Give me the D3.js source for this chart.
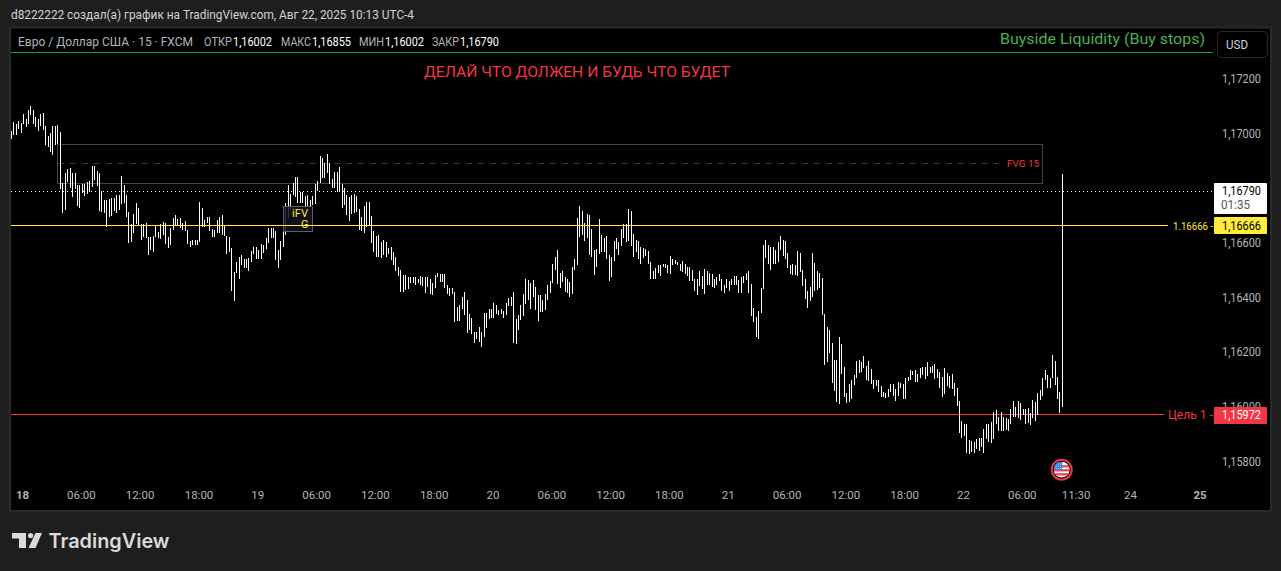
<!DOCTYPE html>
<html><head><meta charset="utf-8">
<script src="https://cdnjs.cloudflare.com/ajax/libs/d3/7.8.5/d3.min.js"></script>
<style>html,body{margin:0;padding:0;background:#1e1e1e;overflow:hidden}svg{display:block}text{font-family:Roboto,"Liberation Sans",sans-serif}</style>
</head><body><svg id="c" width="1281" height="571"></svg>
<script>
// Prices in 1e-5 units above 1.0 (16855 = 1.16855), one value per 15 minute bar
const highs=[17011,17044,17037,17048,17040,17074,17055,17088,17103,17088,17064,17055,17074,17076,17030,16993,17005,17030,17030,17033,17007,16820,16856,16872,16875,16856,16856,16814,16814,16817,16817,16826,16828,16883,16883,16865,16856,16793,16759,16759,16762,16765,16767,16777,16777,16847,16814,16777,16716,16671,16707,16746,16731,16671,16671,16673,16622,16624,16627,16663,16643,16670,16679,16673,16624,16655,16694,16704,16688,16692,16676,16682,16649,16610,16612,16612,16612,16751,16731,16685,16698,16698,16651,16649,16685,16698,16704,16667,16627,16624,16582,16494,16530,16551,16557,16543,16541,16547,16573,16585,16585,16576,16598,16594,16618,16655,16655,16657,16645,16576,16610,16645,16746,16814,16781,16820,16842,16842,
16789,16789,16773,16777,16758,16773,16819,16828,16919,16911,16893,16927,16893,16834,16862,16860,16878,16819,16801,16777,16770,16777,16780,16773,16724,16697,16737,16752,16751,16700,16646,16626,16630,16606,16612,16606,16581,16585,16569,16548,16514,16502,16483,16483,16477,16477,16477,16475,16468,16480,16477,16477,16477,16468,16453,16483,16492,16487,16487,16487,16447,16438,16435,16422,16367,16374,16404,16420,16392,16341,16328,16276,16276,16294,16276,16343,16346,16358,16361,16380,16374,16355,16361,16353,16380,16398,16404,16420,16321,16337,16374,16416,16468,16465,16453,16465,16441,16410,16410,16394,16416,16447,16463,16526,16551,16575,16492,16498,16477,16471,16459,
16512,16542,16691,16736,16718,16673,16707,16703,16652,16575,16579,16689,16630,16618,16627,16557,16551,16608,16618,16606,16652,16670,16670,16725,16718,16634,16612,16608,16587,16581,16579,16572,16532,16498,16508,16520,16520,16524,16526,16520,16553,16542,16539,16532,16526,16536,16526,16512,16514,16502,16471,16468,16498,16480,16506,16498,16493,16487,16468,16475,16486,16471,16449,16471,16463,16471,16480,16480,16465,16475,16480,16493,16498,16451,16362,16329,16352,16435,16594,16612,16594,16585,16587,16575,16606,16627,16612,16608,16563,16520,16524,16520,16572,16563,
16502,16469,16425,16439,16563,16527,16498,16490,16472,16341,16292,16282,16233,16172,16172,16255,16231,16148,16050,16085,16099,16117,16169,16172,16164,16187,16150,16169,16138,16099,16099,16099,16077,16054,16050,16066,16085,16085,16066,16093,16089,16083,16107,16112,16136,16132,16136,16121,16144,16148,16148,16165,16148,16152,16158,16138,16127,16110,16142,16124,16114,16120,16087,16069,16022,15949,15938,15938,15879,15876,15871,15882,15886,15886,15920,15937,15937,15947,15983,15989,15965,15981,15965,15959,15956,15993,16022,15999,16021,16014,15992,15993,15998,15980,16026,16017,16050,16063,16105,16136,16117,16105,16191,16169,16111,16054,16855];
const lows=[16982,16997,16997,17018,17005,17037,17027,17037,17070,17037,17027,17013,17030,17015,16960,16954,16936,16924,16960,16964,16798,16712,16722,16826,16801,16771,16798,16737,16728,16783,16773,16779,16789,16805,16832,16810,16720,16716,16712,16661,16695,16700,16720,16712,16722,16744,16746,16695,16602,16606,16637,16671,16667,16612,16624,16618,16557,16576,16568,16622,16618,16616,16630,16598,16584,16594,16649,16667,16667,16655,16649,16646,16598,16585,16594,16594,16594,16606,16661,16661,16673,16646,16624,16622,16639,16637,16630,16627,16560,16569,16427,16390,16490,16469,16521,16511,16511,16500,16533,16561,16541,16541,16541,16566,16578,16602,16618,16618,16539,16511,16539,16588,16630,16692,16722,16777,16771,16746,
16746,16746,16728,16734,16734,16740,16744,16792,16822,16838,16841,16858,16819,16801,16801,16789,16789,16728,16740,16703,16681,16709,16712,16715,16648,16646,16639,16658,16667,16602,16569,16548,16548,16545,16557,16548,16560,16538,16520,16499,16480,16422,16422,16429,16432,16453,16455,16447,16453,16447,16444,16419,16441,16413,16410,16435,16475,16459,16459,16438,16416,16407,16414,16313,16316,16315,16358,16337,16272,16282,16267,16236,16248,16239,16221,16258,16288,16321,16325,16327,16341,16337,16341,16325,16337,16370,16370,16233,16231,16284,16319,16333,16377,16392,16361,16404,16355,16316,16349,16349,16355,16392,16419,16453,16504,16451,16438,16459,16422,16419,16404,
16415,16502,16520,16624,16630,16609,16618,16557,16551,16484,16512,16561,16567,16569,16542,16462,16475,16535,16578,16557,16591,16618,16606,16608,16590,16551,16569,16542,16524,16547,16554,16524,16471,16469,16469,16490,16480,16512,16508,16490,16487,16520,16526,16520,16498,16496,16487,16480,16463,16463,16425,16410,16443,16432,16414,16449,16449,16441,16437,16447,16463,16426,16419,16438,16426,16447,16447,16447,16419,16419,16456,16465,16419,16333,16313,16258,16250,16346,16431,16545,16524,16502,16526,16524,16532,16575,16553,16542,16511,16487,16484,16484,16481,16494,
16444,16396,16364,16389,16404,16426,16429,16435,16339,16154,16164,16197,16089,16059,16019,16012,16121,16038,16014,16019,16030,16081,16107,16124,16127,16142,16099,16096,16083,16066,16077,16056,16038,16038,16033,16038,16054,16042,16022,16042,16069,16030,16030,16096,16099,16117,16093,16093,16108,16117,16103,16115,16124,16126,16103,16105,16070,16038,16048,16078,16069,16066,16041,16005,15906,15887,15895,15833,15828,15835,15833,15846,15840,15853,15833,15883,15873,15870,15882,15938,15914,15914,15914,15916,15912,15938,15965,15962,15959,15953,15971,15937,15940,15934,15959,15949,15971,16026,16042,16099,16069,16069,16105,16081,16028,15977,16002];
const priceTicks=[1.172,1.17,1.166,1.164,1.162,1.16,1.158];
const timeTickBars=[4.4,28.4,52.4,76.4,100.4,124.4,148.4,172.4,196.4,220.4,244.4,268.4,292.4,316.4,340.4,364.4,388.4,412.4,434.4,456.6,485];
const timeTickLabels=["18","06:00","12:00","18:00","19","06:00","12:00","18:00","20","06:00","12:00","18:00","21","06:00","12:00","18:00","22","06:00","11:30","24","25"];
const boldLabels=["18","25"];
const closePrice=1.1679, yellowLevel=1.16666, targetLevel=1.15972;
const fvgTop=1.16963, fvgBottom=1.1682, fvgMid=1.16891;

const svg=d3.select("#c");
const x=d3.scaleLinear().domain([0,429]).range([11.3,1062.4]);
const y=d3.scaleLinear().domain([1.158,1.172]).range([461.7,79.5]);
const P=v=>1+v/100000;
const fmt=v=>d3.format(".5f")(v).replace(".",",");
const grey="#b2b5be",red="#f23645",yellow="#ffeb3b";
const label=(t,xx,yy,o={})=>{const e=svg.append("text").attr("x",xx).attr("y",yy).attr("fill",o.c||grey).attr("font-size",o.s||12).attr("text-anchor",o.a||"start").attr("font-weight",o.w||400).attr("dominant-baseline","central").text(t);
 if(o.len)e.attr("textLength",o.len).attr("lengthAdjust","spacingAndGlyphs");return e;};

svg.append("rect").attr("width",1281).attr("height",571).attr("fill","#1e1e1e");
label("d8222222 создал(а) график на TradingView.com, Авг 22, 2025 10:13 UTC-4",11,14.5,{c:"#d1d4dc",len:403});
svg.append("rect").attr("x",10).attr("y",27.5).attr("width",1261).attr("height",483.5).attr("fill","#000").attr("stroke","#2a2a2a").attr("stroke-width",2);

// axes
const yAxis=d3.axisRight(y).tickValues(priceTicks).tickFormat(fmt).tickSize(0);
const gy=svg.append("g").attr("transform","translate(1261,0)").call(yAxis);
gy.select(".domain").remove();
gy.selectAll("text").attr("x",0).attr("dy","0.28em").attr("text-anchor","end").attr("fill",grey).attr("font-size",12).attr("font-family","Roboto").attr("textLength",39).attr("lengthAdjust","spacingAndGlyphs");
const xAxis=d3.axisBottom(x).tickValues(timeTickBars).tickFormat((d,i)=>timeTickLabels[i]).tickSize(0);
const gx=svg.append("g").attr("transform","translate(0,491)").call(xAxis);
gx.select(".domain").remove();
gx.selectAll("text").attr("fill",grey).attr("font-size",11.5).attr("font-family","Roboto").attr("y",0).attr("dy","0.71em")
  .attr("font-weight",function(){return boldLabels.includes(this.textContent)?700:400});

// FVG
const fx0=x(19),fx1=x(421);
svg.append("rect").attr("x",fx0).attr("y",y(fvgTop)).attr("width",fx1-fx0).attr("height",y(fvgBottom)-y(fvgTop)).attr("fill","none").attr("stroke","#434651").attr("stroke-width",1).attr("shape-rendering","crispEdges");
svg.append("line").attr("x1",fx0).attr("x2",x(403)).attr("y1",y(fvgMid)).attr("y2",y(fvgMid)).attr("stroke","#363a45").attr("stroke-dasharray","6 6").attr("shape-rendering","crispEdges");
label("FVG 15",1007,163,{c:red,s:9.5,len:32});

// levels
const hline=(p,x2,c,dash)=>{const l=svg.append("line").attr("x1",11).attr("x2",x2).attr("y1",y(p)).attr("y2",y(p)).attr("stroke",c).attr("shape-rendering","crispEdges");if(dash)l.attr("stroke-dasharray",dash);};
hline(closePrice,1212,"#fff","1 3");
hline(targetLevel,1164,red);

// bars
svg.append("g").selectAll("line").data(highs).join("line")
 .attr("x1",(d,i)=>x(i)).attr("x2",(d,i)=>x(i)).attr("y1",d=>y(P(d))).attr("y2",(d,i)=>y(P(lows[i])))
 .attr("stroke","#fff").attr("stroke-width",1).attr("shape-rendering","crispEdges");

// iFVG
svg.append("rect").attr("x",283.5).attr("y",206.5).attr("width",29).attr("height",25).attr("fill","rgba(17,17,27,.86)").attr("stroke","#5d606b").attr("shape-rendering","crispEdges");
hline(yellowLevel,1168,yellow);
label("iFV",292,213.5,{c:yellow,s:11,len:16});
label("G",301,224,{c:yellow,s:11});

// header
svg.append("rect").attr("x",11).attr("y",29).attr("width",1203).attr("height",23).attr("fill","#000");
svg.append("line").attr("x1",11).attr("x2",1213).attr("y1",52.5).attr("y2",52.5).attr("stroke","#089981").attr("shape-rendering","crispEdges");
label("Евро / Доллар США · 15 · FXCM",18,41.5,{len:175});
[["ОТКР",204,"1,16002",233],["МАКС",281,"1,16855",312],["МИН",359,"1,16002",385],["ЗАКР",432,"1,16790",460]].forEach(a=>{label(a[0],a[1],41.5,{len:a[3]-a[1]-1});label(a[2],a[3],41.5,{c:"#fff",len:39});});
label("Buyside Liquidity (Buy stops)",1000,38.5,{c:"#4caf50",s:15.5,len:205});
label("ДЕЛАЙ ЧТО ДОЛЖЕН И БУДЬ ЧТО БУДЕТ",424,71.5,{c:red,s:15,len:306});
svg.append("rect").attr("x",1217.5).attr("y",31.5).attr("width",50).attr("height",26).attr("rx",4).attr("fill","#000").attr("stroke","#2a2a2a");
label("USD",1226,44.5,{c:"#d1d4dc",s:12,len:22});

// price labels
const tag=(yy,h,c)=>svg.append("rect").attr("x",1214).attr("y",yy).attr("width",53).attr("height",h).attr("rx",1).attr("fill",c);
tag(183,31,"#fff");
label("1,16790",1222,191,{c:"#000",len:39});
label("01:35",1221,205,{c:"#555",len:29});
tag(217,17,yellow);
label("1,16666",1222,225.5,{c:"#000",len:39});
label("1.16666 -",1173,226,{c:yellow,s:10,len:40});
tag(407,17,red);
label("1,15972",1222,415,{c:"#fff",len:39});
label("Цель 1 -",1168,415,{c:red,s:12,len:45});

// US flag event marker
const f=svg.append("g").attr("transform","translate(1061.7,469.7)");
f.append("circle").attr("r",10).attr("fill","#000").attr("stroke",red).attr("stroke-width",2);
const cp=svg.append("clipPath").attr("id","fc");cp.append("circle").attr("cx",0).attr("cy",0).attr("r",8);
const fg=f.append("g").attr("clip-path","url(#fc)");
fg.append("rect").attr("x",-8).attr("y",-8).attr("width",16).attr("height",16).attr("fill","#f5f5f5");
[-4.5,-0.5,3.5].forEach(v=>fg.append("rect").attr("x",-8).attr("y",v).attr("width",16).attr("height",2.2).attr("fill","#e5474f"));
fg.append("rect").attr("x",-8).attr("y",-8).attr("width",8.5).attr("height",8).attr("fill","#2f7fe0");
for(let a=-6;a<0;a+=2.2)for(let b=-6;b<0;b+=2.2)fg.append("rect").attr("x",a).attr("y",b).attr("width",1).attr("height",1).attr("fill","#cfe3ff");

// logo
const lg=svg.append("g").attr("fill","#dbdbdb");
lg.append("path").attr("d","M12 533H26V548H19V538.5H12Z");
lg.append("circle").attr("cx",30.6).attr("cy",535.6).attr("r",2.6);
lg.append("path").attr("d","M35.5 533H42L35.5 548H28.5Z");
svg.append("text").attr("x",48.5).attr("y",541).attr("fill","#dbdbdb").attr("font-size",20).attr("font-weight",600).attr("dominant-baseline","central").attr("textLength",121).attr("lengthAdjust","spacingAndGlyphs").style("font-family","Inter,Roboto,sans-serif").text("TradingView");
</script></body></html>
